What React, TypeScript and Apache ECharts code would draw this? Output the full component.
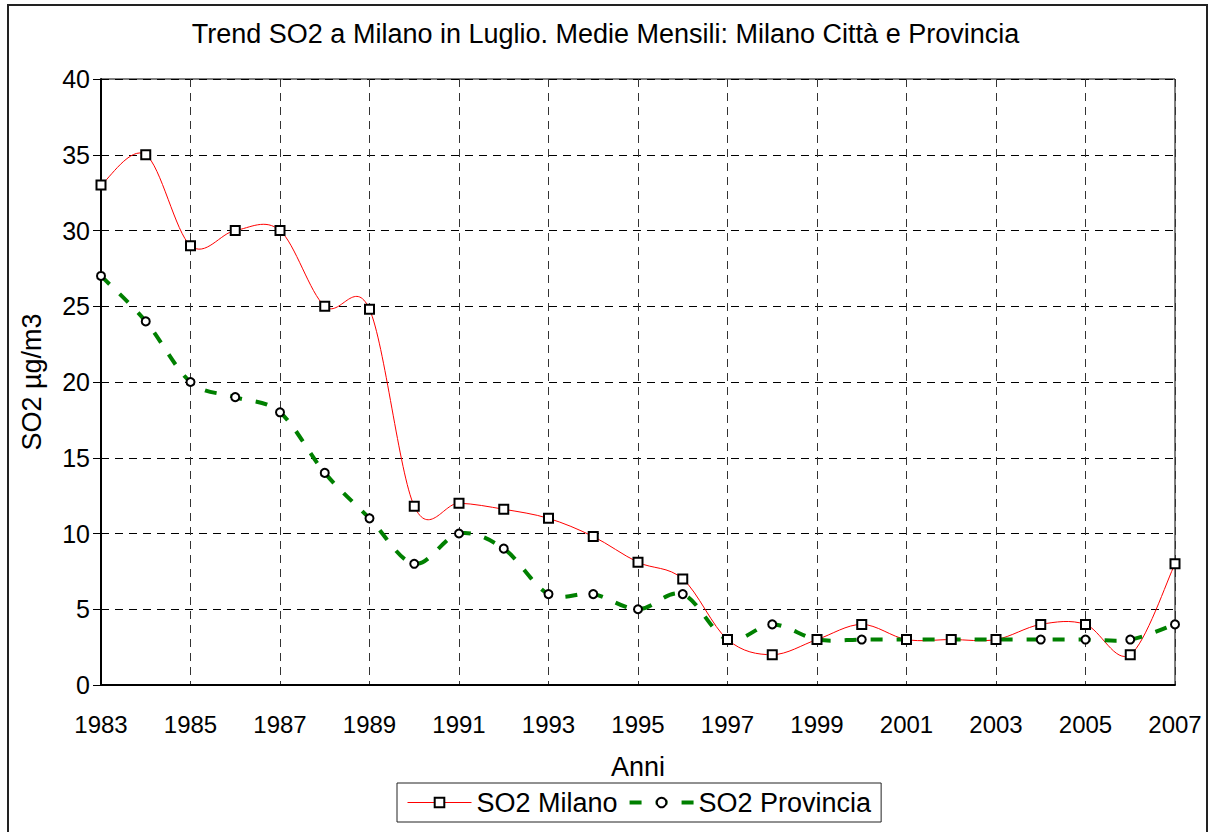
import React, { useEffect, useRef } from "react";
import * as echarts from "echarts";

const years = [
  "1983", "1984", "1985", "1986", "1987", "1988", "1989", "1990", "1991", "1992",
  "1993", "1994", "1995", "1996", "1997", "1998", "1999", "2000", "2001", "2002",
  "2003", "2004", "2005", "2006", "2007",
];
const milano = [33, 35, 29, 30, 30, 25, 24.8, 11.8, 12, 11.6, 11, 9.8, 8.1, 7, 3, 2, 3, 4, 3, 3, 3, 4, 4, 2, 8];
const provincia = [27, 24, 20, 19, 18, 14, 11, 8, 10, 9, 6, 6, 5, 6, 3, 4, 3, 3, 3, 3, 3, 3, 3, 3, 4];

const FONT = "Liberation Sans, Arial, sans-serif";

function smoothPath(pts: number[][]): string {
  // Catmull-Rom style cubic Bezier (similar to Excel's smoothed line)
  const n = pts.length;
  let d = `M${pts[0][0]},${pts[0][1]}`;
  for (let i = 0; i < n - 1; i++) {
    const p0 = pts[i - 1] || pts[i];
    const p1 = pts[i];
    const p2 = pts[i + 1];
    const p3 = pts[i + 2] || pts[i + 1];
    const c1x = p1[0] + (p2[0] - p0[0]) / 6;
    const c1y = p1[1] + (p2[1] - p0[1]) / 6;
    const c2x = p2[0] - (p3[0] - p1[0]) / 6;
    const c2y = p2[1] - (p3[1] - p1[1]) / 6;
    d += ` C${c1x},${c1y} ${c2x},${c2y} ${p2[0]},${p2[1]}`;
  }
  return d;
}

function curveSeries(name: string, values: number[], style: any) {
  return {
    name,
    type: "custom",
    data: values.map((v, i) => [i, v]),
    z: 1,
    silent: true,
    renderItem: (params: any, api: any) => {
      if (params.dataIndex !== 0) return null;
      const pts = values.map((v, i) => api.coord([i, v]));
      return {
        type: "path",
        shape: { pathData: smoothPath(pts) },
        style: { fill: "none", ...style },
      };
    },
  };
}

export default function App() {
  const ref = useRef<HTMLDivElement>(null);
  useEffect(() => {
    document.body.style.margin = "0";
    const chart = echarts.init(ref.current!, undefined, { renderer: "svg" });
    chart.setOption({
      animation: false,
      backgroundColor: "#fff",
      textStyle: { fontFamily: FONT, color: "#000" },
      title: {
        text: "Trend SO2 a Milano in Luglio. Medie Mensili: Milano Città e Provincia",
        left: "center",
        top: 15,
        textStyle: { fontFamily: FONT, fontSize: 27, fontWeight: "normal", color: "#000" },
      },
      graphic: [
        {
          type: "rect",
          silent: true,
          shape: { x: 8, y: 5, width: 1199, height: 860 },
          style: { fill: "none", stroke: "#222", lineWidth: 2 },
        },
      ],
      grid: {
        left: 101,
        right: 36,
        top: 79,
        bottom: 147,
        show: true,
        borderColor: "#000",
        borderWidth: 1,
        backgroundColor: "transparent",
      },
      legend: {
        top: 783,
        left: 397,
        orient: "horizontal",
        borderColor: "#222",
        borderWidth: 1,
        padding: [6, 10, 6, 10],
        itemWidth: 64,
        itemHeight: 12,
        itemGap: 10,
        textStyle: { fontFamily: FONT, fontSize: 27, color: "#000" },
        data: [
          {
            name: "SO2 Milano",
            lineStyle: { color: "#ff0000", width: 1, opacity: 1, type: "solid" },
          },
          {
            name: "SO2 Provincia",
            lineStyle: { color: "#008000", width: 4, opacity: 1, type: [12, 14] },
          },
        ],
      },
      xAxis: {
        type: "category",
        data: years,
        boundaryGap: false,
        name: "Anni",
        nameLocation: "middle",
        nameGap: 68,
        nameTextStyle: { fontFamily: FONT, fontSize: 27, color: "#000" },
        axisLine: { lineStyle: { color: "#000", width: 2 } },
        axisTick: { show: false },
        axisLabel: { interval: 1, margin: 27, fontFamily: FONT, fontSize: 24, color: "#000" },
        splitLine: {
          show: true,
          interval: 1,
          lineStyle: { color: "#333", type: [8, 6], width: 1 },
        },
      },
      yAxis: {
        type: "value",
        min: 0,
        max: 40,
        interval: 5,
        name: "SO2 µg/m3",
        nameLocation: "middle",
        nameGap: 56,
        nameTextStyle: { fontFamily: FONT, fontSize: 27, color: "#000" },
        axisLine: { show: true, lineStyle: { color: "#000", width: 2 } },
        axisTick: { show: true, length: 8, lineStyle: { color: "#000", width: 1 } },
        axisLabel: { margin: 11, fontFamily: FONT, fontSize: 25, color: "#000" },
        splitLine: { show: true, lineStyle: { color: "#000", type: [8, 6], width: 1 } },
      },
      series: [
        curveSeries("Milano curve", milano, { stroke: "#ff0000", lineWidth: 1 }),
        curveSeries("Provincia curve", provincia, {
          stroke: "#008000",
          lineWidth: 4,
          lineDash: [12, 14],
        }),
        {
          name: "SO2 Milano",
          type: "line",
          data: milano,
          symbol: "rect",
          symbolSize: 9,
          lineStyle: { color: "#ff0000", width: 1, opacity: 0 },
          itemStyle: { color: "#fff", borderColor: "#000", borderWidth: 2 },
          z: 4,
        },
        {
          name: "SO2 Provincia",
          type: "line",
          data: provincia,
          symbol: "circle",
          symbolSize: 8,
          lineStyle: { color: "#008000", width: 4, opacity: 0 },
          itemStyle: { color: "#fff", borderColor: "#000", borderWidth: 2 },
          z: 3,
        },
      ],
    });
    return () => chart.dispose();
  }, []);
  return <div ref={ref} style={{ width: 1211, height: 832 }} />;
}
